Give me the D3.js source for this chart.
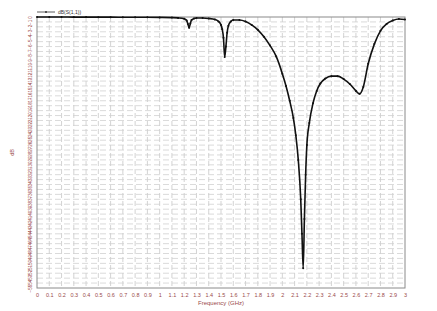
<!DOCTYPE html>
<html>
<head>
<meta charset="utf-8">
<script src="https://cdn.jsdelivr.net/npm/d3@7"></script>
<style>
  html, body { margin: 0; padding: 0; background: #fff; }
  svg { display: block; font-family: "Liberation Sans", Arial, sans-serif; }
</style>
</head>
<body>
<div id="chart"></div>
<script>
// frequency (GHz) and dB(S(1,1))
const freq = [0, 0.1, 0.2, 0.3, 0.4, 0.5, 0.6, 0.7, 0.8, 0.9, 1.0, 1.1, 1.15, 1.2, 1.22, 1.23, 1.24, 1.25, 1.26, 1.28, 1.3,
  1.35, 1.4, 1.45, 1.48, 1.5, 1.51, 1.52, 1.53, 1.54, 1.55, 1.56, 1.58, 1.6, 1.65, 1.7, 1.75, 1.8, 1.85, 1.9, 1.95,
  2.0, 2.03, 2.06, 2.09, 2.11, 2.13, 2.15, 2.16, 2.17, 2.18, 2.19, 2.2, 2.22, 2.25, 2.28, 2.31, 2.35, 2.4, 2.45,
  2.5, 2.55, 2.6, 2.63, 2.66, 2.7, 2.75, 2.8, 2.85, 2.9, 2.95, 3.0];
const s11 = [0, -0.01, -0.01, -0.02, -0.02, -0.03, -0.03, -0.04, -0.05, -0.06, -0.08, -0.12, -0.18, -0.35, -0.7, -1.4, -2.2, -1.3, -0.6, -0.3, -0.2,
  -0.2, -0.3, -0.5, -0.9, -1.6, -2.5, -4.2, -8.1, -6.0, -3.2, -1.8, -0.9, -0.6, -0.6, -0.9, -1.6, -2.6, -4.0, -5.8, -8.0,
  -11.5, -14, -17, -20.5, -24, -29, -37, -44, -51, -41, -32, -26, -21.5, -17.5, -15, -13.5, -12.5, -12, -12,
  -12.6, -13.6, -15, -15.6, -14.2, -9.5, -5.5, -2.8, -1.4, -0.7, -0.4, -0.5];

const xTicks = d3.range(0, 31).map(i => i / 10);
const yTicks = d3.range(0, 56).map(i => -i);
const seriesName = "dB(S(1,1))";

const W = 437, H = 311;
const margin = {top: 17, right: 32, bottom: 23, left: 37};
const width = W - margin.left - margin.right;
const height = H - margin.top - margin.bottom;
const labelColor = "#9a4a4a";

const svg = d3.select("#chart").append("svg")
    .attr("width", W)
    .attr("height", H);

const g = svg.append("g")
    .attr("transform", "translate(" + margin.left + "," + margin.top + ")");

const x = d3.scaleLinear().domain([0, 3]).range([0, width]);
const y = d3.scaleLinear().domain([-55, 0]).range([height, 0]);

// dashed grid
g.append("g")
    .selectAll("line")
    .data(xTicks.slice(1, -1))
    .enter().append("line")
    .attr("x1", d => x(d)).attr("x2", d => x(d))
    .attr("y1", 0).attr("y2", height)
    .attr("stroke", "#c8c8c8")
    .attr("stroke-width", 0.8)
    .attr("stroke-dasharray", "5,3");

g.append("g")
    .selectAll("line")
    .data(yTicks.slice(1, -1))
    .enter().append("line")
    .attr("x1", 0).attr("x2", width)
    .attr("y1", d => y(d)).attr("y2", d => y(d))
    .attr("stroke", "#d0d0d0")
    .attr("stroke-width", 0.8)
    .attr("stroke-dasharray", "6,3");

// axes
const xAxis = g.append("g")
    .attr("transform", "translate(0," + height + ")")
    .call(d3.axisBottom(x).tickValues(xTicks).tickSize(0).tickPadding(5).tickFormat(d3.format("~g")));
xAxis.select(".domain").remove();
xAxis.selectAll("text").attr("fill", labelColor).attr("font-size", 5.5);

const yAxis = g.append("g")
    .call(d3.axisLeft(y).tickValues(yTicks).tickSize(0).tickPadding(0).tickFormat(d3.format("d")));
yAxis.select(".domain").remove();
yAxis.selectAll("text")
    .attr("fill", labelColor)
    .attr("font-size", 4.6)
    .attr("text-anchor", "middle")
    .attr("x", 0)
    .attr("dy", 0)
    .attr("transform", "translate(-5,0) rotate(-90)");

// plot frame
g.append("rect")
    .attr("width", width)
    .attr("height", height)
    .attr("fill", "none")
    .attr("stroke", "#8a8a8a")
    .attr("stroke-width", 1);

// data
const data = freq.map((f, i) => ({f: f, v: s11[i]}));

const line = d3.line()
    .x(d => x(d.f))
    .y(d => y(d.v))
    .curve(d3.curveMonotoneX);

g.append("path")
    .datum(data)
    .attr("fill", "none")
    .attr("stroke", "#111")
    .attr("stroke-width", 1.6)
    .attr("d", line);

g.selectAll(".pt")
    .data(data)
    .enter().append("circle")
    .attr("class", "pt")
    .attr("cx", d => x(d.f))
    .attr("cy", d => y(d.v))
    .attr("r", 1)
    .attr("fill", "#111");

// axis titles
svg.append("text")
    .attr("x", margin.left + width / 2)
    .attr("y", 305)
    .attr("text-anchor", "middle")
    .attr("fill", labelColor)
    .attr("font-size", 6)
    .text("Frequency (GHz)");

svg.append("text")
    .attr("transform", "translate(14," + (margin.top + height / 2) + ") rotate(-90)")
    .attr("text-anchor", "middle")
    .attr("fill", labelColor)
    .attr("font-size", 5.5)
    .text("dB");

// legend
const legend = svg.append("g").attr("transform", "translate(37,12)");
legend.append("line")
    .attr("x1", 0).attr("x2", 18)
    .attr("stroke", "#333")
    .attr("stroke-width", 0.8);
legend.append("circle")
    .attr("cx", 9).attr("r", 1)
    .attr("fill", "#333");
legend.append("text")
    .attr("x", 21)
    .attr("y", 1.6)
    .attr("font-size", 5)
    .attr("fill", "#333")
    .text(seriesName);
</script>
</body>
</html>
